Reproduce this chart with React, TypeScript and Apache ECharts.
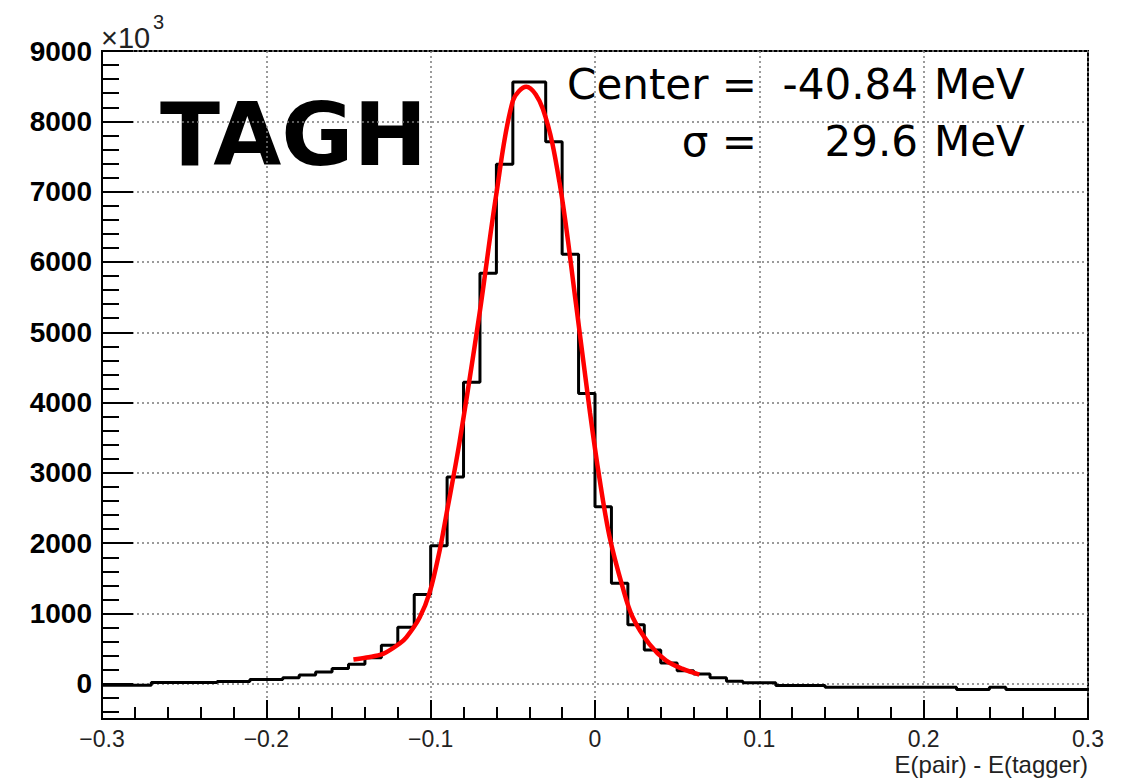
import React, { useEffect, useRef } from "react";
import * as echarts from "echarts";

// Histogram: 60 bins of width 0.01 from -0.3 to 0.3 (counts, in units of 10^3)
const X_MIN = -0.3;
const X_MAX = 0.3;
const BIN_WIDTH = 0.01;
const binCounts = [
  -20, -20, -20, 20, 20, 20, 20, 35, 35, 60,
  60, 88, 125, 170, 218, 278, 370, 550, 805, 1270,
  1965, 2940, 4290, 5840, 7390, 8560, 8560, 7710, 6110, 4130,
  2520, 1430, 840, 480, 295, 185, 140, 85, 38, 14,
  14, -24, -24, -24, -47, -47, -47, -47, -47, -47,
  -47, -47, -80, -80, -47, -80, -80, -80, -80, -80,
];

// Fitted curve (red)
const fitX = [
  -0.147, -0.139, -0.129, -0.1188, -0.1148, -0.1067, -0.1006, -0.0945, -0.0905,
  -0.0824, -0.0702, -0.0601, -0.05, -0.0418, -0.0317, -0.0216, -0.0115, -0.003,
  0.0027, 0.0088, 0.0169, 0.023, 0.0331, 0.0433, 0.0534, 0.0635,
];
const fitY = [
  345, 375, 427, 575, 660, 943, 1300, 1900, 2400,
  3443, 5275, 6957, 8290, 8490, 8174, 7130, 5391, 3850,
  2925, 2100, 1368, 943, 566, 330, 212, 132,
];

const Y_MIN = -500;
const Y_MAX = 9000;
const yMajorTicks = [0, 1000, 2000, 3000, 4000, 5000, 6000, 7000, 8000, 9000];
const yMinorTicks = [
  -400, -200, 200, 400, 600, 800, 1200, 1400, 1600, 1800, 2200, 2400, 2600, 2800,
  3200, 3400, 3600, 3800, 4200, 4400, 4600, 4800, 5200, 5400, 5600, 5800,
  6200, 6400, 6600, 6800, 7200, 7400, 7600, 7800, 8200, 8400, 8600, 8800,
];

const xTitle = "E(pair) - E(tagger)";
const plotLabel = "TAGH";
const centerLabel = "Center =";
const centerValue = "-40.84";
const sigmaLabel = "σ =";
const sigmaValue = "29.6";
const unitLabel = "MeV";

export default function App() {
  const ref = useRef<HTMLDivElement>(null);

  useEffect(() => {
    if (!ref.current) return;
    const chart = echarts.init(ref.current, undefined, { renderer: "svg" });

    const histData: number[][] = binCounts.map((c, i) => [
      Number((X_MIN + i * BIN_WIDTH).toFixed(2)),
      c,
    ]);
    histData.push([X_MAX, binCounts[binCounts.length - 1]]);
    const fitData = fitX.map((x, i) => [x, fitY[i]]);

    const gridLine = { color: "#7a7a7a", width: 1.5, type: [2, 3] as number[] };
    const labelFont = "Liberation Sans, Arial, Helvetica, sans-serif";
    const textFont = "DejaVu Sans, sans-serif";

    chart.setOption({
      animation: false,
      backgroundColor: "#ffffff",
      grid: {
        left: 102,
        top: 51,
        width: 986,
        height: 668,
        show: true,
        borderColor: "#000",
        borderWidth: 2,
        containLabel: false,
      },
      xAxis: {
        type: "value",
        min: X_MIN,
        max: X_MAX,
        interval: 0.1,
        axisLine: { show: true, onZero: false, lineStyle: { color: "#000", width: 2 } },
        axisTick: { show: true, inside: true, length: 19, lineStyle: { color: "#000", width: 2 } },
        minorTick: { show: true, splitNumber: 5, length: 12, lineStyle: { color: "#000", width: 2 } },
        splitLine: { show: true, lineStyle: gridLine },
        axisLabel: {
          margin: 8,
          fontSize: 23,
          color: "#222",
          fontFamily: labelFont,
          formatter: (v: number) => {
            const r = Math.round(v * 10) / 10;
            if (r === 0) return "0";
            const s = Math.abs(r).toFixed(1);
            return r < 0 ? "\u2212" + s : s;
          },
        },
      },
      yAxis: [
        {
          type: "value",
          min: Y_MIN,
          max: Y_MAX,
          position: "left",
          axisLine: { show: true, onZero: false, lineStyle: { color: "#000", width: 2 } },
          axisTick: {
            show: true,
            inside: true,
            length: 31,
            customValues: yMajorTicks,
            lineStyle: { color: "#000", width: 2 },
          },
          splitLine: { show: true, customValues: yMajorTicks, lineStyle: gridLine },
          axisLabel: {
            customValues: yMajorTicks,
            margin: 10,
            fontSize: 28,
            fontWeight: "bold",
            color: "#000",
            fontFamily: labelFont,
            formatter: (v: number) => String(Math.round(v)),
          },
        },
        {
          type: "value",
          min: Y_MIN,
          max: Y_MAX,
          position: "left",
          axisLine: { show: false, onZero: false },
          axisTick: {
            show: true,
            inside: true,
            length: 17,
            customValues: yMinorTicks,
            lineStyle: { color: "#000", width: 2 },
          },
          splitLine: { show: false },
          axisLabel: { show: false },
        },
      ],
      series: [
        {
          type: "line",
          name: "hist",
          step: "end",
          data: histData,
          symbol: "none",
          lineStyle: { color: "#000", width: 3 },
          z: 3,
        },
        {
          type: "line",
          name: "fit",
          smooth: 0.35,
          data: fitData,
          symbol: "none",
          lineStyle: { color: "#ff0000", width: 4.5 },
          z: 4,
        },
      ],
      graphic: [
        {
          type: "text",
          x: 101,
          y: 38,
          style: {
            text: "×10",
            fontSize: 29,
            fill: "#222",
            fontFamily: labelFont,
            textVerticalAlign: "middle",
          },
        },
        {
          type: "text",
          x: 153,
          y: 22,
          style: {
            text: "3",
            fontSize: 20,
            fill: "#222",
            fontFamily: labelFont,
            textVerticalAlign: "middle",
          },
        },
        {
          type: "text",
          x: 160,
          y: 134,
          style: {
            text: plotLabel,
            fontSize: 88,
            fontWeight: "bold",
            fill: "#000",
            fontFamily: textFont,
            textVerticalAlign: "middle",
          },
        },
        {
          type: "text",
          x: 757,
          y: 84,
          style: {
            text: centerLabel,
            fontSize: 42,
            fill: "#000",
            fontFamily: textFont,
            textAlign: "right",
            textVerticalAlign: "middle",
          },
        },
        {
          type: "text",
          x: 918,
          y: 84,
          style: {
            text: centerValue,
            fontSize: 42,
            fill: "#000",
            fontFamily: textFont,
            textAlign: "right",
            textVerticalAlign: "middle",
          },
        },
        {
          type: "text",
          x: 934,
          y: 84,
          style: {
            text: unitLabel,
            fontSize: 42,
            fill: "#000",
            fontFamily: textFont,
            textAlign: "left",
            textVerticalAlign: "middle",
          },
        },
        {
          type: "text",
          x: 757,
          y: 141,
          style: {
            text: sigmaLabel,
            fontSize: 42,
            fill: "#000",
            fontFamily: textFont,
            textAlign: "right",
            textVerticalAlign: "middle",
          },
        },
        {
          type: "text",
          x: 918,
          y: 141,
          style: {
            text: sigmaValue,
            fontSize: 42,
            fill: "#000",
            fontFamily: textFont,
            textAlign: "right",
            textVerticalAlign: "middle",
          },
        },
        {
          type: "text",
          x: 934,
          y: 141,
          style: {
            text: unitLabel,
            fontSize: 42,
            fill: "#000",
            fontFamily: textFont,
            textAlign: "left",
            textVerticalAlign: "middle",
          },
        },
        {
          type: "text",
          x: 1088,
          y: 764,
          style: {
            text: xTitle,
            fontSize: 24,
            fill: "#222",
            fontFamily: labelFont,
            textAlign: "right",
            textVerticalAlign: "middle",
          },
        },
      ],
    });

    return () => {
      chart.dispose();
    };
  }, []);

  return (
    <div
      ref={ref}
      style={{
        position: "absolute",
        left: 0,
        top: 0,
        width: 1129,
        height: 780,
        background: "#fff",
      }}
    />
  );
}
